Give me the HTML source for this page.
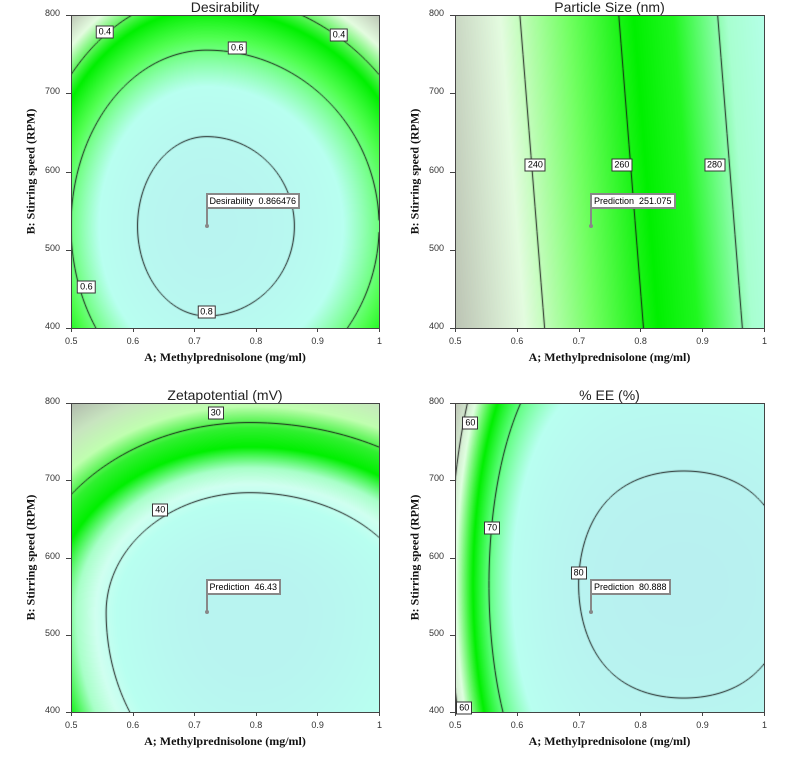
<!DOCTYPE html>
<html><head><meta charset="utf-8"><style>
body{margin:0;width:785px;height:767px;background:#fff;position:relative;overflow:hidden;font-family:"Liberation Sans",sans-serif}
.abs{position:absolute}
canvas{position:absolute}
.tt{position:absolute;font-size:14px;color:#222;text-align:center;width:320px}
.tk{position:absolute;font-size:9px;color:#333}
.xt{position:absolute;font:bold 12px "Liberation Serif",serif;color:#111;text-align:center;width:320px}
.yt{position:absolute;font:bold 12px "Liberation Serif",serif;color:#111;width:320px;text-align:center;transform:rotate(-90deg);transform-origin:center}
.lbl{position:absolute;font-size:9px;background:#fff;border:1px solid #333;padding:0 2px;line-height:11px;transform:translate(-50%,-50%)}
.flag{position:absolute;font-size:9px;background:#fff;border:2px solid #888;padding:0 2px;line-height:12px;white-space:nowrap}
.pt{position:absolute;width:4px;height:4px;border-radius:2px;background:#888}
.stem{position:absolute;width:2px;background:#888}
.frame{position:absolute;border:1px solid #444;box-sizing:border-box}
</style></head><body>
<div id="root"></div>
<script>
// ---- data ----
const xTicks=[0.5,0.6,0.7,0.8,0.9,1];
const yTicks=[400,500,600,700,800];
const panelTitles=["Desirability","Particle Size (nm)","Zetapotential (mV)","% EE (%)"];
const flagNames=["Desirability","Prediction","Prediction","Prediction"];
const flagValues=["0.866476","251.075","46.43","80.888"];
const flagA=0.72, flagB=530;
// model coefficients: [peak, centerA, centerB, kxLeft, kxRight, quartic, kyUp, kyDown]
const desirCoef=[0.87,0.72,530,5.58,3.44,0,5.33e-6,5.33e-6];
const zetaCoef=[46.6,0.79,529,121.6,91,0,2.75e-4,1.2e-4];
const eeCoef=[82,0.87,565,48,48,735,9.26e-5,9.26e-5];
// particle size linear model: [level, slope, a0, shiftPerRPM]
const sizeCoef=[240,125,0.645,0.0001];
const desirLevels=[0.4,0.6,0.8];
const sizeLevels=[240,260,280];
const zetaLevels=[30,40];
const eeLevels=[60,70,80];
const desirLabels=[[0.4,0.555,778],[0.4,0.935,775],[0.6,0.77,758],[0.6,0.525,453],[0.8,0.72,420]];
const sizeLabels=[[240,0.63,608],[260,0.77,608],[280,0.92,608]];
const zetaLabels=[[30,0.735,787],[40,0.645,662]];
const eeLabels=[[60,0.525,774],[70,0.56,638],[80,0.7,580],[60,0.515,405]];

function quad(c){return (a,b)=>{const dx=a-c[1],dy=b-c[2];const kx=dx<0?c[3]:c[4];const ky=dy<0?c[7]:c[6];return c[0]-kx*dx*dx-c[5]*dx*dx*dx*dx-ky*dy*dy;};}
const sizeFn=(a,b)=>sizeCoef[0]+sizeCoef[1]*(a-(sizeCoef[2]-sizeCoef[3]*(b-400)));

const panels=[
 {x0:71,y0:15,w:308,h:313,fn:quad(desirCoef),levels:desirLevels,labels:desirLabels,
  stops:[[0.2,'#b8c0b0'],[0.32,'#e4fce0'],[0.46,'#00f000'],[0.56,'#50ff50'],[0.7,'#b8fff0'],[0.9,'#b8f2f0']]},
 {x0:455,y0:15,w:309,h:313,fn:sizeFn,levels:sizeLevels,labels:sizeLabels,
  stops:[[222,'#bcc4b4'],[236,'#e4fce0'],[250,'#70ff60'],[263,'#00f000'],[271,'#20f820'],[282,'#a8ffd0'],[292,'#b8fff0']]},
 {x0:71,y0:403,w:308,h:309,fn:quad(zetaCoef),levels:zetaLevels,labels:zetaLabels,
  stops:[[16,'#b0b8ac'],[22,'#c8e4c0'],[27,'#c0ffb0'],[31,'#30f030'],[34,'#00f000'],[37,'#a8ffc8'],[39,'#d0fff0'],[41,'#b8fff0'],[46,'#b8f4f0']]},
 {x0:455,y0:403,w:309,h:309,fn:quad(eeCoef),levels:eeLevels,labels:eeLabels,
  stops:[[57,'#c0c8b8'],[62,'#e0ffe0'],[66.5,'#00f000'],[70,'#60ff80'],[74,'#b8fff0'],[82,'#b8f0f0']]}
];
function hex(c){return [1,3,5].map(i=>parseInt(c.substr(i,2),16));}
function colorAt(st,v){if(v<=st[0][0])return hex(st[0][1]);for(let i=1;i<st.length;i++){if(v<=st[i][0]){const t=(v-st[i-1][0])/(st[i][0]-st[i-1][0]);const a=hex(st[i-1][1]),b=hex(st[i][1]);return a.map((x,k)=>x+(b[k]-x)*t);}}return hex(st[st.length-1][1]);}
const root=document.getElementById('root');
function mk(tag,cls,name,inter){const e=document.createElement(tag);if(cls)e.className=cls;


root.appendChild(e);return e;}

panels.forEach((p,pi)=>{
 const X=a=>p.x0+(a-0.5)/0.5*p.w, Y=b=>p.y0+p.h-(b-400)/400*p.h;
 const cv=mk('canvas','', 'contour-plot-'+(pi+1),'false');
 cv.width=p.w;cv.height=p.h;cv.style.left=p.x0+'px';cv.style.top=p.y0+'px';
 const ctx=cv.getContext('2d');const img=ctx.createImageData(p.w,p.h);
 const A=px=>0.5+px/p.w*0.5, B=py=>800-py/p.h*400;
 for(let j=0;j<p.h;j++)for(let i=0;i<p.w;i++){const c=colorAt(p.stops,p.fn(A(i+0.5),B(j+0.5)));const k=(j*p.w+i)*4;img.data[k]=c[0];img.data[k+1]=c[1];img.data[k+2]=c[2];img.data[k+3]=255;}
 ctx.putImageData(img,0,0);
 ctx.strokeStyle='#111';ctx.lineWidth=1;const s=2;
 p.levels.forEach(L=>{ctx.beginPath();
  for(let j=0;j<p.h;j+=s)for(let i=0;i<p.w;i+=s){
   const xs=[i,i+s,i+s,i],ys=[j,j,j+s,j+s];const v=xs.map((x,k)=>p.fn(A(x),B(ys[k])));
   const pts=[];for(let e=0;e<4;e++){const n=(e+1)%4;if((v[e]-L)*(v[n]-L)<0){const t=(L-v[e])/(v[n]-v[e]);pts.push([xs[e]+(xs[n]-xs[e])*t,ys[e]+(ys[n]-ys[e])*t]);}}
   for(let q=0;q+1<pts.length;q+=2){ctx.moveTo(pts[q][0],pts[q][1]);ctx.lineTo(pts[q+1][0],pts[q+1][1]);}
  }ctx.stroke();});
 const fr=mk('div','frame','plot-frame-'+(pi+1),'false');fr.style.cssText=`left:${p.x0}px;top:${p.y0}px;width:${p.w+1}px;height:${p.h+1}px`;
 const t=mk('div','tt','panel-title-'+(pi+1),'false');t.textContent=panelTitles[pi];t.style.left=(p.x0+p.w/2-160)+'px';t.style.top=(p.y0-16)+'px';
 xTicks.forEach(v=>{const e=mk('div','tk','x-tick-label','false');e.textContent=String(v);e.style.left=(X(v)-(v==1?2:6))+'px';e.style.top=(p.y0+p.h+8)+'px';
  const m=mk('div','abs','x-tick','false');m.style.cssText=`left:${X(v)}px;top:${p.y0+p.h}px;width:1px;height:4px;background:#444`;});
 yTicks.forEach(v=>{const e=mk('div','tk','y-tick-label','false');e.textContent=String(v);e.style.left=(p.x0-26)+'px';e.style.top=(Y(v)-7)+'px';
  const m=mk('div','abs','y-tick','false');m.style.cssText=`left:${p.x0-5}px;top:${Y(v)}px;width:5px;height:1px;background:#444`;});
 const xt=mk('div','xt','x-axis-title','false');xt.textContent='A; Methylprednisolone (mg/ml)';xt.style.left=(p.x0+p.w/2-160)+'px';xt.style.top=(p.y0+p.h+22)+'px';
 const yt=mk('div','yt','y-axis-title','false');yt.textContent='B: Stirring speed (RPM)';yt.style.left=(p.x0-40-160)+'px';yt.style.top=(p.y0+p.h/2-8)+'px';
 p.labels.forEach(l=>{const e=mk('div','lbl','contour-label','false');e.textContent=String(l[0]);e.style.left=X(l[1])+'px';e.style.top=Y(l[2])+'px';});
 const px=X(flagA),py=Y(flagB);
 const st=mk('div','stem','prediction-stem','false');st.style.left=(px-1)+'px';st.style.top=(py-18)+'px';st.style.height='18px';
 const dot=mk('div','pt','prediction-point','true');dot.style.left=(px-2)+'px';dot.style.top=(py-2)+'px';
 const fl=mk('div','flag','prediction-flag','true');fl.textContent=flagNames[pi]+'  '+flagValues[pi];fl.style.whiteSpace='pre';fl.style.left=(px-1)+'px';fl.style.top=(py-33)+'px';
});
</script>
</body></html>
